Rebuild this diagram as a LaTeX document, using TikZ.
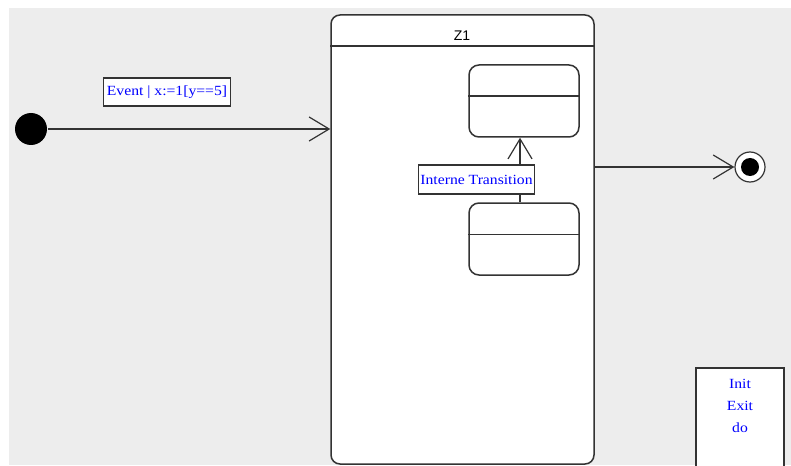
\documentclass[tikz,border=0pt]{standalone}
\usepackage{fontspec}
\setmainfont{Liberation Serif}
\newfontfamily\zonefont{Liberation Sans}
\newfontfamily\lblfont[FakeStretch=1.12]{Liberation Serif}
\usetikzlibrary{arrows.meta,calc}
\begin{document}
\begin{tikzpicture}[
  x=1pt, y=-1pt,
  every node/.style = {line width=1.5pt, draw=black!80},
  zone/.style = {rounded corners=9pt, fill=white, minimum width=263pt, minimum height=449pt},
  state/.style = {rounded corners=10pt, fill=white, minimum width=110pt, minimum height=72pt},
  lbl/.style = {fill=white, text=blue, font=\lblfont\fontsize{14}{16}\selectfont, inner sep=1pt},
  split/.style = {line width=1.5pt, draw=black!80},
  trans/.style = {draw=black!80, line width=1.2pt, -{Straight Barb[length=20pt,width=24pt]}}
]
    \clip (0,0) rectangle (791,465);
    \fill[black!7] (9,8) rectangle (791,465);

    % pseudo states
    \node[circle, fill=black, draw=none, minimum size=32pt] (start) at (31,129) {};
    \node[circle, fill=white, minimum size=30pt, line width=1.2pt] (stop) at (750,167) {};
    \node[circle, fill=black, draw=none, minimum size=18pt] (stopdot) at (stop) {};

    % composite state Z1 with its two substates
    \node[zone] (z1) at (462.5,239.5) {};
    \draw[split] ([yshift=-32pt]z1.north west) -- ([yshift=-32pt]z1.north east);
    \node[draw=none, font=\zonefont\fontsize{14}{16}\selectfont] (z1name) at (462,36) {Z1};
    \node[state] (s1) at (524,101) {};
    \node[state] (s2) at (524,239) {};
    \foreach \s in {s1,s2}{
        \draw[split] ([yshift=-32pt]\s.north west) -- ([yshift=-32pt]\s.north east);
    }

    % transitions
    \path[trans] (start) -- (start -| z1.west);
    \path[trans] (s2.north -| 520,0) -- (s1.south -| 520,0);
    \path[trans] (stop -| z1.east) -- (stop);
    \node[lbl, minimum width=127pt, minimum height=28pt] (ev) at (167,92) {Event | x:=1[y==5]};
    \node[lbl, minimum width=116pt, minimum height=29pt] (intern) at (476.5,179.5) {Interne Transition};

    % actions box
    \node[fill=white, minimum width=88pt, minimum height=110pt, anchor=north] (acts) at (740,367) {};
    \node[draw=none, text=blue, align=center, anchor=north, font=\lblfont\fontsize{14}{22}\selectfont]
        (actlist) at ([yshift=-8pt]acts.north) {Init\\Exit\\do};
\end{tikzpicture}
\end{document}
